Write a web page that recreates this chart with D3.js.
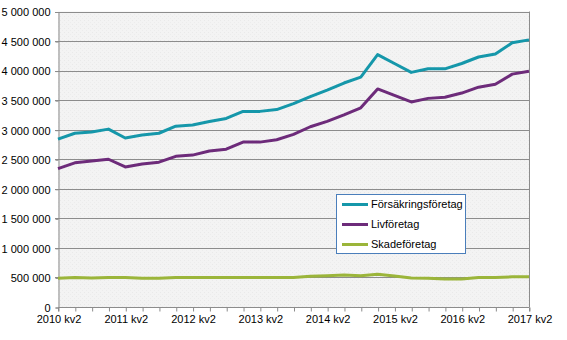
<!DOCTYPE html>
<html><head><meta charset="utf-8">
<script src="https://cdn.jsdelivr.net/npm/d3@7"></script>
<style>body{margin:0;background:#fff;}svg{display:block;font-family:"Liberation Sans",Arial,sans-serif;}</style>
</head><body><svg id="c" width="567" height="340"></svg>
<script>
const quarters = ["2010 kv2","2010 kv3","2010 kv4","2011 kv1","2011 kv2","2011 kv3","2011 kv4","2012 kv1","2012 kv2","2012 kv3","2012 kv4","2013 kv1","2013 kv2","2013 kv3","2013 kv4","2014 kv1","2014 kv2","2014 kv3","2014 kv4","2015 kv1","2015 kv2","2015 kv3","2015 kv4","2016 kv1","2016 kv2","2016 kv3","2016 kv4","2017 kv1","2017 kv2"];
const forsakring = [2840000,2940000,2960000,3010000,2860000,2910000,2940000,3060000,3080000,3140000,3190000,3310000,3310000,3340000,3440000,3560000,3670000,3790000,3890000,4270000,4120000,3970000,4030000,4030000,4120000,4230000,4280000,4470000,4520000];
const liv = [2340000,2440000,2470000,2500000,2370000,2420000,2450000,2550000,2570000,2640000,2670000,2790000,2790000,2830000,2920000,3050000,3140000,3250000,3370000,3690000,3580000,3470000,3530000,3550000,3620000,3720000,3770000,3940000,3990000];
const skade = [486000,500000,490000,500000,500000,485000,485000,500000,500000,500000,500000,500000,500000,500000,500000,520000,530000,540000,530000,555000,525000,490000,486000,475000,475000,500000,500000,510000,510000];
const seriesNames = ["Försäkringsföretag","Livföretag","Skadeföretag"];
const seriesColors = ["#1597aa","#6d2b7a","#9bb53a"];
const yTicks = [0,500000,1000000,1500000,2000000,2500000,3000000,3500000,4000000,4500000,5000000];
const xLabels = ["2010 kv2","2011 kv2","2012 kv2","2013 kv2","2014 kv2","2015 kv2","2016 kv2","2017 kv2"];

const svg = d3.select("#c");
const L = 58, R = 529, T = 11.5, B = 307;
const x = d3.scalePoint().domain(quarters).range([L, R]);
const y = d3.scaleLinear().domain([0, 5000000]).range([B, T]);
const fmt = v => d3.format(",")(v).replace(/,/g, " ");

// plot background
const defs = svg.append("defs");
const pat = defs.append("pattern").attr("id","tex").attr("width",4).attr("height",4).attr("patternUnits","userSpaceOnUse");
pat.append("rect").attr("width",4).attr("height",4).attr("fill","#f3f3f3");
pat.append("rect").attr("x",0).attr("y",0).attr("width",1).attr("height",1).attr("fill","#e9e9e9");
pat.append("rect").attr("x",2).attr("y",2).attr("width",1).attr("height",1).attr("fill","#ececec");
svg.append("rect").attr("x",L).attr("y",T).attr("width",R-L).attr("height",B-T).attr("fill","url(#tex)");

// grid lines
svg.append("g").selectAll("line").data(yTicks.filter(d=>d>0)).join("line")
  .attr("x1",L-3).attr("x2",R).attr("y1",d=>Math.round(y(d))+0.5).attr("y2",d=>Math.round(y(d))+0.5)
  .attr("stroke","#8c8c8c").attr("stroke-width",1);

// y axis
const yAxis = d3.axisLeft(y).tickValues(yTicks).tickFormat(fmt).tickSize(3).tickPadding(5);
const gy = svg.append("g").attr("transform",`translate(${L+0.5},0.5)`).call(yAxis);
gy.select(".domain").attr("stroke","#8c8c8c");
gy.selectAll(".tick line").attr("stroke","#8c8c8c");
gy.selectAll("text").attr("font-size",11).attr("fill","#000").attr("font-family","Liberation Sans, Arial, sans-serif").attr("dy","0.35em");

// right border
svg.append("line").attr("x1",R+0.5).attr("x2",R+0.5).attr("y1",T).attr("y2",B).attr("stroke","#8c8c8c");

// x axis
const xAxis = d3.axisBottom(x).tickValues(quarters).tickSize(4).tickPadding(4).tickFormat(d => xLabels.includes(d) ? d : "");
const gx = svg.append("g").attr("transform",`translate(0.5,${Math.round(B)+0.5})`).call(xAxis);
gx.select(".domain").attr("stroke","#8c8c8c").attr("d",`M${L},4V0H${R}V4`);
gx.selectAll(".tick line").attr("stroke","#8c8c8c");
gx.selectAll("text").attr("font-size",11).attr("fill","#000").attr("font-family","Liberation Sans, Arial, sans-serif");

// lines
const data = [forsakring, liv, skade];
const line = d3.line().x((d,i)=>x(quarters[i])).y(d=>y(d));
svg.append("g").selectAll("path").data(data).join("path")
  .attr("d", line).attr("fill","none")
  .attr("stroke",(d,i)=>seriesColors[i]).attr("stroke-width",3)
  .attr("stroke-linejoin","round").attr("stroke-linecap","butt");

// legend
const lg = svg.append("g");
lg.append("rect").attr("x",336.5).attr("y",194.5).attr("width",129).attr("height",59)
  .attr("fill","#fff").attr("stroke","#4a7ebb").attr("stroke-width",1);
seriesNames.forEach((n,i)=>{
  const yy = 204.5 + i*20;
  lg.append("line").attr("x1",342).attr("x2",368).attr("y1",yy).attr("y2",yy)
    .attr("stroke",seriesColors[i]).attr("stroke-width",3);
  lg.append("text").attr("x",371).attr("y",yy).attr("dy","0.35em").attr("font-size",11)
    .attr("fill","#000").text(n);
});
</script></body></html>
